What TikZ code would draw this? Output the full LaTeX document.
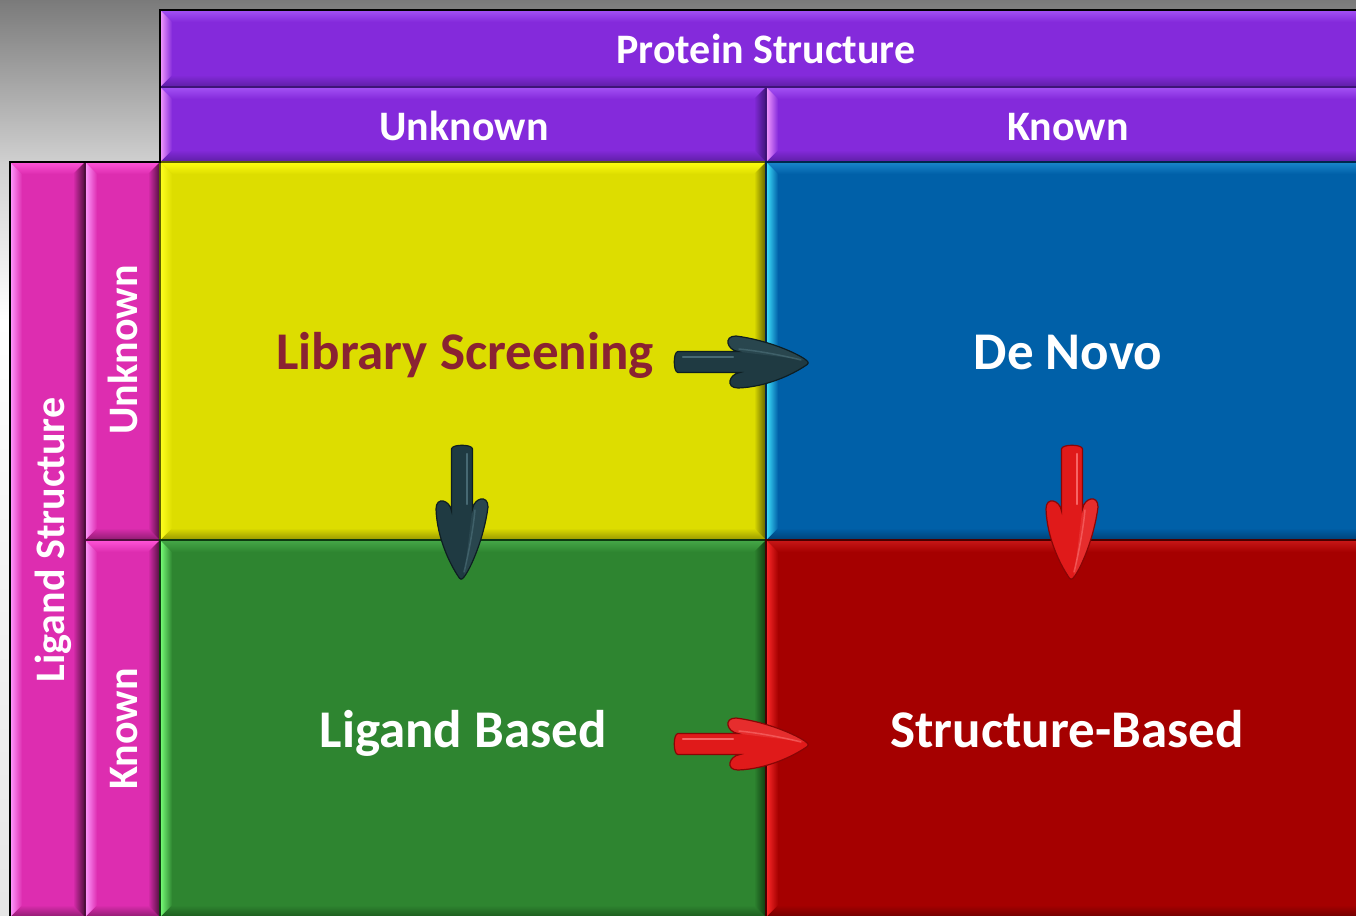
\documentclass[tikz,border=0pt]{standalone}
\usepackage{fontspec}
\setmainfont{Carlito}
\usetikzlibrary{calc}

% box palettes: base fill, top bevel, left bevel (light), right bevel (dark)
\definecolor{purpbase}{HTML}{842ADB}
\definecolor{purptop}{HTML}{A452F5}
\definecolor{purplight}{HTML}{F59CFF}
\definecolor{purpdark}{HTML}{3E1478}
\definecolor{magbase}{HTML}{DD2DB0}
\definecolor{magtop}{HTML}{FF55D8}
\definecolor{maglight}{HTML}{FF9CFF}
\definecolor{magdark}{HTML}{4E0E3C}
\definecolor{yelbase}{HTML}{DDDD00}
\definecolor{yeltop}{HTML}{FFFF10}
\definecolor{yellight}{HTML}{FFFF20}
\definecolor{yeldark}{HTML}{5E5E00}
\definecolor{blubase}{HTML}{0060A8}
\definecolor{blutop}{HTML}{1A86CC}
\definecolor{blulight}{HTML}{40E4FF}
\definecolor{bludark}{HTML}{00284E}
\definecolor{grnbase}{HTML}{2E8530}
\definecolor{grntop}{HTML}{46A848}
\definecolor{grnlight}{HTML}{78FF78}
\definecolor{grndark}{HTML}{0E3A10}
\definecolor{redbase}{HTML}{A50000}
\definecolor{redtop}{HTML}{C81818}
\definecolor{redlight}{HTML}{FF2A2A}
\definecolor{reddark}{HTML}{480000}
\definecolor{libtext}{HTML}{8A2232}
% arrow colours
\definecolor{slatefill}{HTML}{1F3A42}
\definecolor{slateedge}{HTML}{0E1E22}
\definecolor{slatehi}{HTML}{557A84}
\definecolor{arrfill}{HTML}{E01A1A}
\definecolor{arredge}{HTML}{8A0505}
\definecolor{arrhi}{HTML}{FF8080}

\newcommand\bw{12}
% bevelled panel: x1 y1 x2 y2 palette
\newcommand\bevbox[5]{%
  \fill[#5base] (#1,#2) rectangle (#3,#4);
  \shade[top color=#5top, bottom color=#5base]
    (#1,#2) -- (#3,#2) -- (#3-\bw,#2+\bw) -- (#1+\bw,#2+\bw) -- cycle;
  \shade[top color=#5base, bottom color=#5dark!55!#5base]
    (#1,#4) -- (#1+\bw,#4-\bw) -- (#3-\bw,#4-\bw) -- (#3,#4) -- cycle;
  \shade[left color=#5light, right color=#5base]
    (#1,#2) -- (#1+\bw,#2+\bw) -- (#1+\bw,#4-\bw) -- (#1,#4) -- cycle;
  \shade[left color=#5base, right color=#5dark]
    (#3,#2) -- (#3-\bw,#2+\bw) -- (#3-\bw,#4-\bw) -- (#3,#4) -- cycle;
  \draw[#5dark, line width=1.2] (#1,#2) rectangle (#3,#4);
}

% block arrow outline, tail at the origin, pointing along +x
\newcommand\arrowoutline{%
  (3,-10.5) -- (63,-10.5)
  .. controls (52,-12) and (48,-26) .. (61,-26)
  .. controls (92,-22) and (122,-9) .. (131,-2)
  .. controls (134,0) and (134,2) .. (130,4)
  .. controls (118,12) and (92,25) .. (63,26)
  .. controls (50,26) and (54,12) .. (65,10.5)
  -- (3,10.5) .. controls (-2,10.5) and (-2,-10.5) .. (3,-10.5) -- cycle}

% tail coordinate, rotation, fill, edge, highlight
\newcommand\fatarrow[5]{%
  \begin{scope}[shift={(5,6)}]
    \begin{scope}[shift={(#1)}, rotate=#2]
      \fill[black, opacity=0.15] \arrowoutline;
    \end{scope}
  \end{scope}
  \begin{scope}[shift={(2,3)}]
    \begin{scope}[shift={(#1)}, rotate=#2]
      \fill[black, opacity=0.22] \arrowoutline;
    \end{scope}
  \end{scope}
  \begin{scope}[shift={(#1)}, rotate=#2]
    \fill[#3] \arrowoutline;
    \fill[#5!35!#3, opacity=0.55]
      (63,-10.5) .. controls (52,-12) and (48,-26) .. (61,-26)
      .. controls (92,-22) and (122,-9) .. (131,-2) .. controls (100,-6) and (80,-8) .. cycle;
    \draw[#5, line width=2.2, line cap=round, opacity=0.75] (8,-5) -- (58,-5);
    \draw[#5, line width=1.5, line cap=round, opacity=0.5]
      (64,-13) .. controls (85,-11) and (110,-6) .. (126,-2);
    \draw[#4, line width=1.2] \arrowoutline;
  \end{scope}
}

\tikzset{
  hdr/.style={text=white, font=\bfseries\fontsize{42}{48}\selectfont, inner sep=0pt},
  cell/.style={text=white, font=\bfseries\fontsize{53}{60}\selectfont, inner sep=0pt}
}

\begin{document}
\begin{tikzpicture}[x=1pt, y=-1pt]
  \useasboundingbox (0,0) rectangle (1356,915);
  \clip (0,0) rectangle (1356,915);

  % backdrop
  \shade[top color=black!52, bottom color=black!18] (0,0) rectangle (1356,165);
  \shade[top color=black!18, bottom color=white] (0,165) rectangle (1356,320);
  \shade[top color=white, bottom color=black!10] (0,320) rectangle (1356,915);

  % column headers
  \bevbox{160}{10}{1368}{87}{purp}
  \bevbox{160}{87}{766}{162}{purp}
  \bevbox{766}{87}{1368}{162}{purp}

  % row headers
  \bevbox{10}{162}{85}{917}{mag}
  \bevbox{85}{162}{160}{540}{mag}
  \bevbox{85}{540}{160}{917}{mag}

  % quadrants
  \bevbox{160}{162}{766}{540}{yel}
  \bevbox{766}{162}{1368}{540}{blu}
  \bevbox{160}{540}{766}{917}{grn}
  \bevbox{766}{540}{1368}{917}{red}

  % outer outline
  \draw[black, line width=1.5] (10,917) -- (10,162) -- (160,162) -- (160,10) -- (1368,10);

  % header labels
  \node[hdr, anchor=base] (protein) at (766,64) {Protein Structure};
  \node[hdr, anchor=base] (punknown) at (464,140) {Unknown};
  \node[hdr, anchor=base] (pknown) at (1068,140) {Known};
  \node[hdr, anchor=base, rotate=90] (ligand) at (64,540) {Ligand Structure};
  \node[hdr, anchor=base, rotate=90] (lunknown) at (137,350) {Unknown};
  \node[hdr, anchor=base, rotate=90] (lknown) at (137,729) {Known};

  % quadrant labels
  \node[cell, text=libtext, anchor=base] (libscr) at (465,369) {Library Screening};
  \node[cell, anchor=base] (denovo) at (1068,369) {De Novo};
  \node[cell, anchor=base] (ligbased) at (463,747) {Ligand Based};
  \node[cell, anchor=base] (strbased) at (1067,747) {Structure-Based};

  % arrows between quadrants
  \coordinate (tailA) at (675,362);
  \coordinate (tailB) at (462,446);
  \coordinate (tailC) at (1072,446);
  \coordinate (tailD) at (675,744);
  \fatarrow{tailA}{0}{slatefill}{slateedge}{slatehi}
  \fatarrow{tailB}{-90}{slatefill}{slateedge}{slatehi}
  \fatarrow{tailC}{-90}{arrfill}{arredge}{arrhi}
  \fatarrow{tailD}{0}{arrfill}{arredge}{arrhi}
\end{tikzpicture}
\end{document}
